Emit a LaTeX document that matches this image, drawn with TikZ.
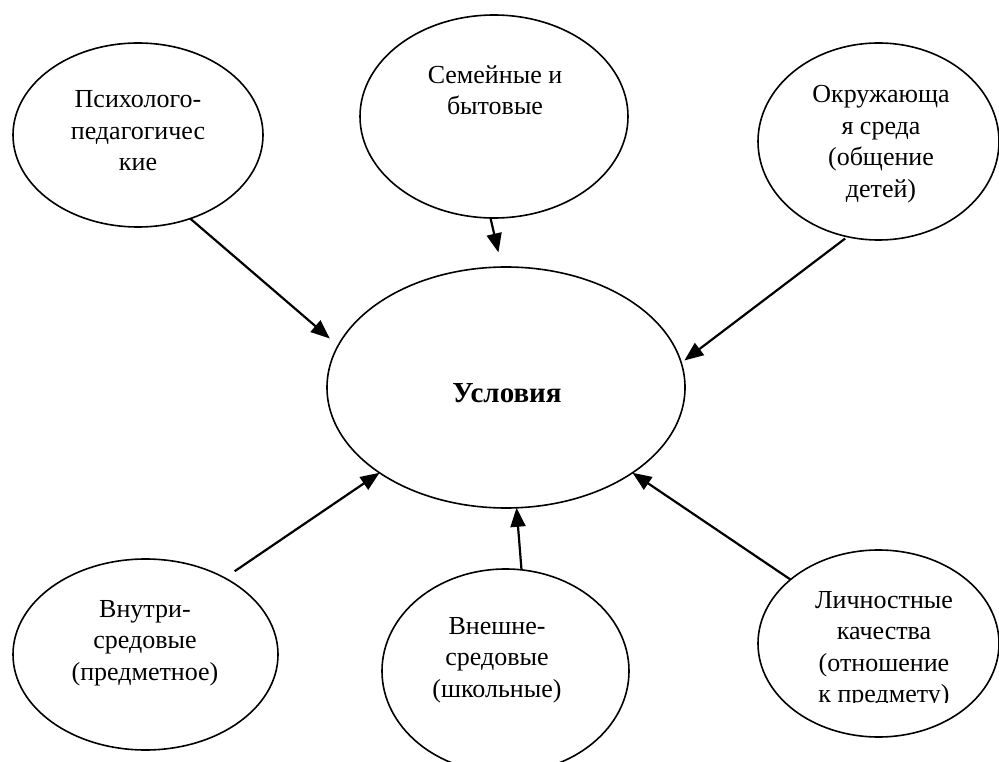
\documentclass[tikz,border=0pt]{standalone}
\usepackage{fontspec}
\setmainfont{Liberation Serif}
\usetikzlibrary{shapes.geometric,arrows.meta}
\begin{document}
\begin{tikzpicture}[x=1pt,y=-1pt,
  oval/.style={draw,ellipse,line width=1.6pt,inner sep=0pt,outer sep=0pt},
  lbl/.style={align=center,font=\fontsize{26}{31.5}\selectfont,inner sep=0pt},
  arr/.style={-{Triangle[length=19pt,width=15pt]},line width=2.2pt}]
\useasboundingbox (0,0) rectangle (999,762);
\clip (0,0) rectangle (999,762);
% ellipses
\node[oval,minimum width=250pt,minimum height=184pt] (e1) at (138,135) {};
\node[oval,minimum width=268pt,minimum height=203pt] (e2) at (494,116.5) {};
\node[oval,minimum width=241pt,minimum height=197pt] (e3) at (878.5,141.5) {};
\node[oval,minimum width=358pt,minimum height=241pt] (c) at (506,387.5) {};
\node[oval,minimum width=265pt,minimum height=191pt] (e4) at (145.5,654.5) {};
\node[oval,minimum width=247pt,minimum height=204pt] (e5) at (505.5,671) {};
\node[oval,minimum width=241pt,minimum height=187pt] (e6) at (878.5,643.5) {};
% texts
\node[lbl] (t1) at (138,131) {Психолого-\\педагогичес\\кие};
\node[lbl] (t2) at (495,90) {Семейные и\\бытовые};
\node[lbl] (t3) at (881,144) {Окружающа\\я среда\\(общение\\детей)};
\node[lbl,font=\fontsize{29}{31}\selectfont\bfseries] (tc) at (507,393) {Условия};
\node[lbl] (t4) at (145,643) {Внутри-\\средовые\\(предметное)};
\node[lbl] (t5) at (497,660) {Внешне-\\средовые\\(школьные)};
\begin{scope}
\clip (740,540) rectangle (999,702);
\node[lbl] (t6) at (884,650) {Личностные\\качества\\(отношение\\к предмету)};
\end{scope}
% arrows
\draw[arr,shorten >=11pt] (e1.-58) -- (c.166);
\draw[arr,shorten >=15pt] (e2.-92) -- (c.92.5);
\draw[arr,shorten <=3pt,shorten >=4pt] (e3.-108.8) -- (c.8.7);
\draw[arr,shorten <=12pt] (e4.44.3) -- (c.214.2);
\draw[arr] (e5.81) -- (c.-85.8);
\draw[arr] (e6.144.6) -- (c.-34.6);
\end{tikzpicture}
\end{document}
